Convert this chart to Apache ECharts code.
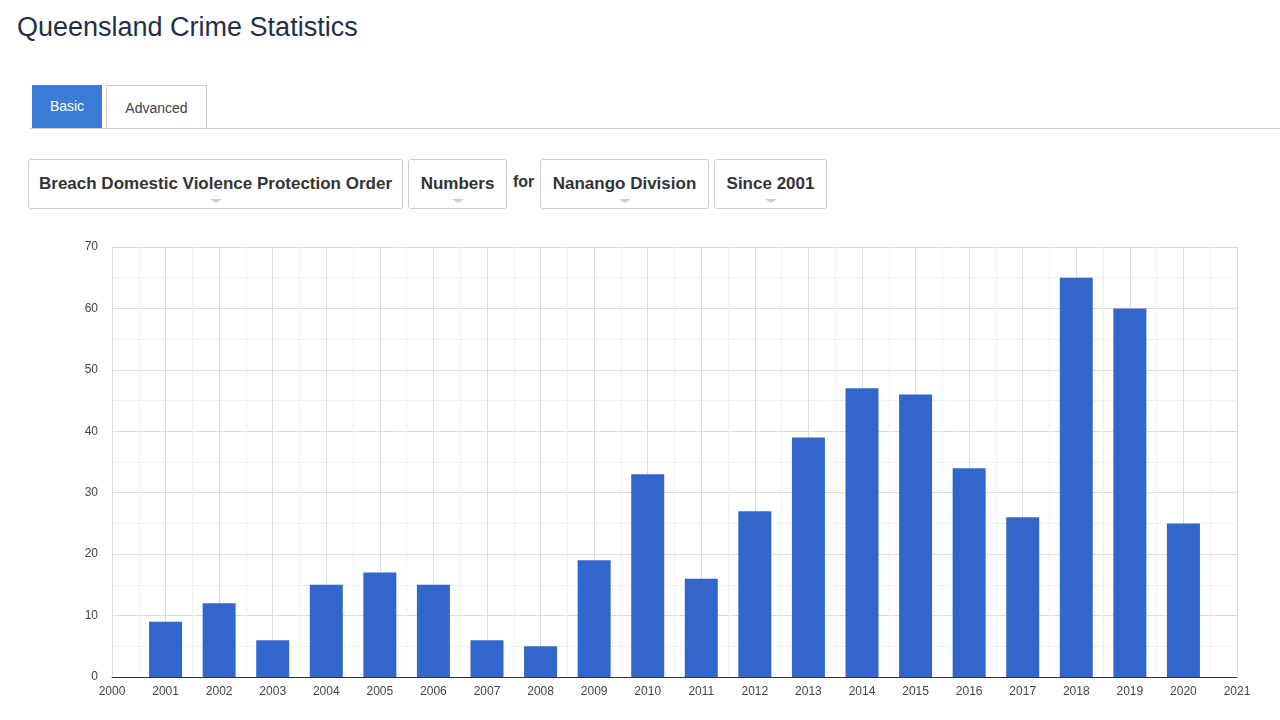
<!DOCTYPE html>
<html>
<head>
<meta charset="utf-8">
<script src="https://cdn.jsdelivr.net/npm/echarts@6/dist/echarts.min.js"></script>
<style>
  body { margin: 0; width: 1280px; height: 720px; overflow: hidden; background: #fff; font-family: "Liberation Sans", Arial, sans-serif; position: relative; }
  h1 { position: absolute; left: 17px; top: 12px; margin: 0; font-size: 27px; font-weight: normal; color: #1f2f4a; }
  .tabline { position: absolute; left: 30px; right: 0; top: 128px; border-top: 1px solid #ccc; }
  .tab { position: absolute; top: 85px; height: 43px; line-height: 43px; font-size: 14px; text-align: center; box-sizing: border-box; }
  .tab.on { left: 32px; width: 70px; background: #3a7bd5; color: #fff; }
  .tab.off { left: 106px; width: 101px; border: 1px solid #ccc; border-bottom: none; color: #444; background: #fff; height: 44px; line-height: 44px; }
  .sel { position: absolute; top: 159px; height: 50px; line-height: 48px; border: 1px solid #ccc; border-radius: 3px; box-sizing: border-box; font-size: 17px; font-weight: bold; color: #333; text-align: center; }
  .sel:after { content: ""; position: absolute; left: 50%; bottom: 5px; margin-left: -6px; border-left: 6px solid transparent; border-right: 6px solid transparent; border-top: 4px solid #ccc; }
  .for { position: absolute; left: 513px; top: 173px; font-size: 16px; font-weight: bold; color: #333; }
  #chart { position: absolute; left: 0; top: 230px; width: 1280px; height: 490px; }
</style>
</head>
<body>
<h1>Queensland Crime Statistics</h1>
<div class="tab on">Basic</div>
<div class="tab off">Advanced</div>
<div class="tabline"></div>
<div class="sel" style="left:28px;width:375px">Breach Domestic Violence Protection Order</div>
<div class="sel" style="left:408px;width:99px">Numbers</div>
<div class="for">for</div>
<div class="sel" style="left:540px;width:169px">Nanango Division</div>
<div class="sel" style="left:714px;width:113px">Since 2001</div>
<div id="chart"></div>
<script>
(function () {
    var myChart = echarts.init(document.getElementById("chart"));

    var years = [2001, 2002, 2003, 2004, 2005, 2006, 2007, 2008, 2009, 2010,
                 2011, 2012, 2013, 2014, 2015, 2016, 2017, 2018, 2019, 2020];
    var counts = [9, 12, 6, 15, 17, 15, 6, 5, 19, 33,
                  16, 27, 39, 47, 46, 34, 26, 65, 60, 25];

    var seriesData = years.map(function (y, i) { return [y, counts[i]]; });
    var labelStyle = { fontSize: 12, color: "#444", fontFamily: "Liberation Sans" };

    var option = {
        animation: false,
        grid: { left: 112, right: 43, top: 17, bottom: 43 },
        xAxis: {
            type: "value",
            min: 2000, max: 2021, interval: 1,
            axisLine: { show: true, lineStyle: { color: "#333" } },
            axisTick: { show: false },
            axisLabel: Object.assign({ margin: 9, formatter: function (v) { return String(v); } }, labelStyle),
            splitLine: { show: true, lineStyle: { color: "#ddd" } },
            minorTick: { show: false, splitNumber: 2 },
            minorSplitLine: { show: true, lineStyle: { color: "#f0f0f0" } }
        },
        yAxis: {
            type: "value",
            min: 0, max: 70, interval: 10,
            axisLine: { show: false },
            axisTick: { show: false },
            axisLabel: Object.assign({ margin: 14 }, labelStyle),
            splitLine: { show: true, lineStyle: { color: "#ddd" } },
            minorTick: { show: false, splitNumber: 2 },
            minorSplitLine: { show: true, lineStyle: { color: "#f0f0f0" } }
        },
        series: [{
            type: "bar",
            barWidth: 33,
            itemStyle: { color: "#3366cc" },
            data: seriesData
        }]
    };
    myChart.setOption(option);
})();
</script>
</body>
</html>
